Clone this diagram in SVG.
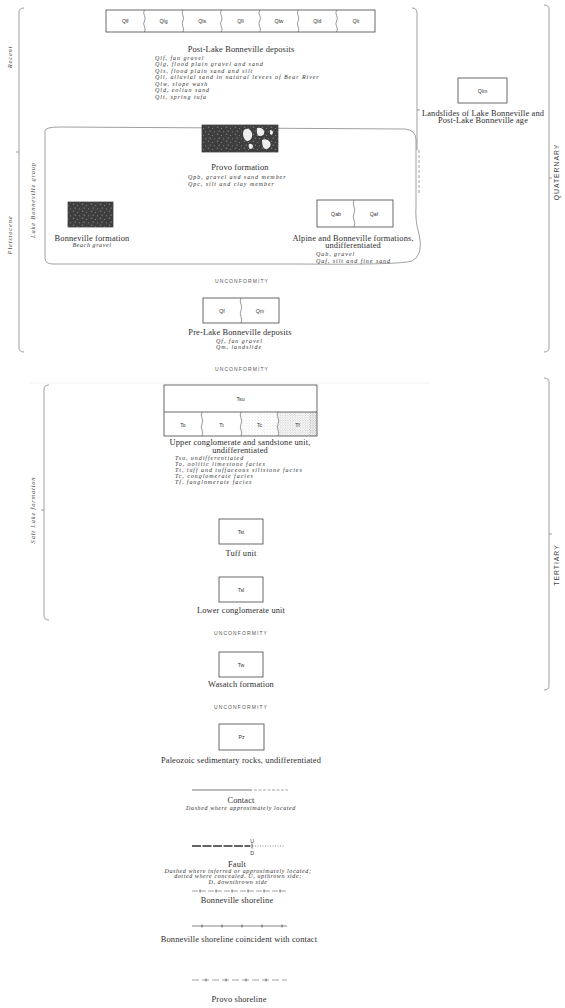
<svg xmlns="http://www.w3.org/2000/svg" width="565" height="1008" viewBox="0 0 565 1008">
<style>
.lbl{font-family:"Liberation Serif",serif;font-size:8.4px;fill:#2e2e2e;letter-spacing:0.15px;text-anchor:middle}
.it{font-family:"Liberation Serif",serif;font-style:italic;font-size:6px;fill:#333;letter-spacing:0.95px}
.itc{font-family:"Liberation Serif",serif;font-style:italic;font-size:6px;fill:#333;letter-spacing:0.6px;text-anchor:middle}
.sym{font-family:"Liberation Sans",sans-serif;font-size:5.2px;fill:#333;text-anchor:middle}
.unc{font-family:"Liberation Sans",sans-serif;font-size:5px;fill:#555;letter-spacing:1.1px;text-anchor:middle}
.era{font-family:"Liberation Sans",sans-serif;font-size:6.8px;fill:#444;letter-spacing:1px;text-anchor:middle}
.side{font-family:"Liberation Serif",serif;font-style:italic;font-size:6.5px;fill:#444;letter-spacing:0.8px;text-anchor:middle}
.box{fill:none;stroke:#444;stroke-width:0.8}
.wv{fill:none;stroke:#555;stroke-width:0.6}
.br{fill:none;stroke:#777;stroke-width:0.7}
.ln{fill:none;stroke:#555;stroke-width:0.8}
</style>
<defs>
<pattern id="mot" width="9" height="7" patternUnits="userSpaceOnUse">
<rect width="9" height="7" fill="#3e3e3e"/>
<circle cx="1.5" cy="1.2" r="0.8" fill="#777"/>
<circle cx="5.5" cy="2.5" r="0.6" fill="#8a8a8a"/>
<circle cx="3.2" cy="5.2" r="0.9" fill="#666"/>
<circle cx="7.6" cy="5.8" r="0.5" fill="#999"/>
<circle cx="7" cy="0.6" r="0.4" fill="#555"/>
</pattern>
<pattern id="stip" width="3" height="3" patternUnits="userSpaceOnUse">
<circle cx="0.8" cy="0.8" r="0.35" fill="#aaa"/>
<circle cx="2.3" cy="2.2" r="0.3" fill="#bbb"/>
</pattern>
<pattern id="stip2" width="2.5" height="2.5" patternUnits="userSpaceOnUse">
<circle cx="0.7" cy="0.7" r="0.45" fill="#888"/>
<circle cx="1.9" cy="1.8" r="0.4" fill="#999"/>
</pattern>
</defs>
<rect width="565" height="1008" fill="#fff"/>

<g id="brackets">
<path class="br" d="M24,8 Q19,8 19,12 V348 Q19,352 24,352 M19,152 H16"/>
<text class="side" transform="rotate(-90 12 57)" x="12" y="57">Recent</text>
<text class="side" transform="rotate(-90 12 235)" x="12" y="235">Pleistocene</text>
<path class="br" d="M544,5 Q549,5 549,9 V348 Q549,352 544,352 M549,178 H552"/>
<text class="era" transform="rotate(-90 559 172)" x="559" y="172">QUATERNARY</text>
<path class="br" d="M544,378 Q549,378 549,382 V686 Q549,690 544,690 M549,534 H552"/>
<text class="era" transform="rotate(-90 559 565)" x="559" y="565">TERTIARY</text>
<path class="br" d="M49,385 Q44,385 44,389 V616 Q44,620 49,620 M44,510 H41"/>
<text class="side" transform="rotate(-90 35 510)" x="35" y="510">Salt Lake formation</text>
<path class="br" d="M412,8 Q417,8 417,13 V150 M417,110 H420"/>
<path d="M30,383 H430" stroke="#e6e6e6" stroke-width="0.6"/>
</g>

<g id="post-lake-bonneville">
<rect class="box" x="106" y="10" width="269" height="22"/>
<path class="wv" d="M144.4,10 q-1.5,2.75 0,5.5 t0,5.5 t0,5.5 t0,5.5 M182.9,10 q-1.5,2.75 0,5.5 t0,5.5 t0,5.5 t0,5.5 M221.3,10 q-1.5,2.75 0,5.5 t0,5.5 t0,5.5 t0,5.5 M259.7,10 q-1.5,2.75 0,5.5 t0,5.5 t0,5.5 t0,5.5 M298.1,10 q-1.5,2.75 0,5.5 t0,5.5 t0,5.5 t0,5.5 M336.6,10 q-1.5,2.75 0,5.5 t0,5.5 t0,5.5 t0,5.5"/>
<text class="sym" x="125.2" y="22.8">Qlf</text>
<text class="sym" x="163.6" y="22.8">Qlg</text>
<text class="sym" x="202.1" y="22.8">Qls</text>
<text class="sym" x="240.5" y="22.8">Qll</text>
<text class="sym" x="278.9" y="22.8">Qlw</text>
<text class="sym" x="317.3" y="22.8">Qld</text>
<text class="sym" x="355.8" y="22.8">Qlt</text>
<text class="lbl" x="241" y="51.5">Post-Lake Bonneville deposits</text>
<text class="it" x="155" y="59.5">Qlf, fan gravel</text>
<text class="it" x="155" y="66">Qlg, flood plain gravel and sand</text>
<text class="it" x="155" y="72.5">Qls, flood plain sand and silt</text>
<text class="it" x="155" y="79">Qll, alluvial sand in natural levees of Bear River</text>
<text class="it" x="155" y="85.5">Qlw, slope wash</text>
<text class="it" x="155" y="92">Qld, eolian sand</text>
<text class="it" x="155" y="98.5">Qlt, spring tufa</text>
</g>

<g id="landslides">
<rect class="box" x="458" y="78" width="49" height="25"/>
<text class="sym" x="482.5" y="92.5">Qlm</text>
<text class="lbl" x="483" y="115.5">Landslides of Lake Bonneville and</text>
<text class="lbl" x="483" y="122.5">Post-Lake Bonneville age</text>
</g>

<g id="lake-bonneville-group">
<path class="br" d="M45,131 V258 Q45,264 53,264 L300,264 Q400,265 412,261 Q424,255 419,234 Q415,222 416,205 V140 Q416,130 405,129 L60,127 Q45,127 45,131Z"/>
<path d="M419,150 V194" stroke="#777" stroke-width="0.7" stroke-dasharray="3,2"/>
<text class="side" transform="rotate(-90 35 200)" x="35" y="200">Lake Bonneville group</text>
</g>

<g id="provo">
<rect x="202" y="125" width="76" height="27" fill="url(#mot)"/>
<path d="M244,130 q4,-3 7,1 q3,5 -1,9 q-4,3 -6,-2 q-2,-4 0,-8Z M257,128 q5,-1 7,3 q1,5 -4,5 q-4,0 -3,-8Z M262,140 q5,-2 8,2 q2,5 -3,7 q-5,1 -5,-9Z M249,144 q3,-1 4,2 q0,3 -3,3 q-2,-2 -1,-5Z M270,130 q3,0 3,3 q-1,3 -3,1Z" fill="#eee"/>
<rect class="box" x="202" y="125" width="76" height="27"/>
<text class="lbl" x="240" y="169.5">Provo formation</text>
<text class="it" x="188" y="179">Qpb, gravel and sand member</text>
<text class="it" x="188" y="185.5">Qpc, silt and clay member</text>
</g>

<g id="bonneville-formation">
<rect x="68" y="202" width="45" height="25" fill="url(#mot)"/>
<rect class="box" x="68" y="202" width="45" height="25"/>
<text class="lbl" x="92" y="240.5">Bonneville formation</text>
<text class="itc" x="92" y="247">Beach gravel</text>
</g>

<g id="alpine-bonneville">
<rect class="box" x="317" y="200" width="76" height="27"/>
<path class="wv" d="M354,200 q-1.5,3.375 0,6.75 t0,6.75 t0,6.75 t0,6.75"/>
<text class="sym" x="336" y="215.5">Qab</text>
<text class="sym" x="374" y="215.5">Qaf</text>
<text class="lbl" x="353" y="240.5">Alpine and Bonneville formations,</text>
<text class="lbl" x="353" y="247.5">undifferentiated</text>
<text class="it" x="316" y="256">Qab, gravel</text>
<text class="it" x="316" y="262.5">Qaf, silt and fine sand</text>
</g>

<g id="pre-lake-bonneville">
<text class="unc" x="242" y="283">UNCONFORMITY</text>
<rect class="box" x="203" y="298" width="76" height="25"/>
<path class="wv" d="M241,298 q-1.5,3.125 0,6.25 t0,6.25 t0,6.25 t0,6.25"/>
<text class="sym" x="222" y="312.5">Qf</text>
<text class="sym" x="260" y="312.5">Qm</text>
<text class="lbl" x="240" y="334.5">Pre-Lake Bonneville deposits</text>
<text class="it" x="216" y="343">Qf, fan gravel</text>
<text class="it" x="216" y="348.5">Qm, landslide</text>
<text class="unc" x="242" y="371">UNCONFORMITY</text>
</g>

<g id="upper-conglomerate">
<rect x="241" y="412" width="37" height="24" fill="url(#stip)"/>
<rect x="278" y="412" width="39" height="24" fill="url(#stip2)"/>
<rect x="309" y="412" width="8" height="24" fill="url(#stip2)" opacity="0.8"/>
<rect class="box" x="164" y="385" width="153" height="51"/>
<path class="box" d="M164,412 H317"/>
<path class="wv" d="M202,412 q-1.5,3 0,6 t0,6 t0,6 t0,6 M241,412 q-1.5,3 0,6 t0,6 t0,6 t0,6 M278,412 q-1.5,3 0,6 t0,6 t0,6 t0,6"/>
<text class="sym" x="240.5" y="401">Tsu</text>
<text class="sym" x="183" y="426.5">To</text>
<text class="sym" x="221.5" y="426.5">Tt</text>
<text class="sym" x="259.5" y="426.5">Tc</text>
<text class="sym" x="297.5" y="426.5">Tf</text>
<text class="lbl" x="240" y="444.5">Upper conglomerate and sandstone unit,</text>
<text class="lbl" x="240" y="452.5">undifferentiated</text>
<text class="it" x="175" y="460">Tsu, undifferentiated</text>
<text class="it" x="175" y="466">To, oolitic limestone facies</text>
<text class="it" x="175" y="472">Tt, tuff and tuffaceous siltstone facies</text>
<text class="it" x="175" y="478">Tc, conglomerate facies</text>
<text class="it" x="175" y="484">Tf, fanglomerate facies</text>
</g>

<g id="tuff-unit">
<rect class="box" x="219" y="519" width="44" height="25"/>
<text class="sym" x="241" y="533.5">Tst</text>
<text class="lbl" x="241" y="555.5">Tuff unit</text>
</g>

<g id="lower-conglomerate">
<rect class="box" x="219" y="577" width="44" height="25"/>
<text class="sym" x="241" y="591.5">Tsl</text>
<text class="lbl" x="241" y="612.5">Lower conglomerate unit</text>
<text class="unc" x="241" y="635">UNCONFORMITY</text>
</g>

<g id="wasatch">
<rect class="box" x="219" y="652" width="44" height="25"/>
<text class="sym" x="241" y="666.5">Tw</text>
<text class="lbl" x="241" y="686.5">Wasatch formation</text>
<text class="unc" x="241" y="709">UNCONFORMITY</text>
</g>

<g id="paleozoic">
<rect class="box" x="219" y="724" width="45" height="26"/>
<text class="sym" x="241.5" y="739">Pz</text>
<text class="lbl" x="241" y="762.5">Paleozoic sedimentary rocks, undifferentiated</text>
</g>

<g id="connectors">
<path class="ln" d="M192,790 H252"/>
<path d="M254,790 H288" stroke="#666" stroke-width="0.6" stroke-dasharray="3,1.5"/>
<path d="M192,846 H250" stroke="#333" stroke-width="1.3" stroke-dasharray="9,1.5"/>
<path d="M250,846 H285" stroke="#666" stroke-width="0.8" stroke-dasharray="1,1.5"/>
<path d="M252,843.5 V848.5" stroke="#333" stroke-width="0.8"/>
<path d="M192,891 H287" stroke="#666" stroke-width="0.6" stroke-dasharray="6,2"/>
<path d="M200,889.5 v3 M216,889.5 v3 M232,889.5 v3 M248,889.5 v3 M264,889.5 v3 M280,889.5 v3" stroke="#444" stroke-width="0.8"/>
<path d="M192,926 H287" stroke="#555" stroke-width="0.7"/>
<path d="M202,924.5 v3 M222,924.5 v3 M242,924.5 v3 M262,924.5 v3 M282,924.5 v3" stroke="#444" stroke-width="0.8"/>
<path d="M192,980 H287" stroke="#666" stroke-width="0.6" stroke-dasharray="7,3"/>
<path d="M206,978.5 v3 M226,978.5 v3 M246,978.5 v3 M266,978.5 v3" stroke="#444" stroke-width="0.8"/>
</g>

<g id="contact">
<text class="lbl" x="241" y="802.5">Contact</text>
<text class="itc" x="241" y="810">Dashed where approximately located</text>
</g>

<g id="fault">
<text class="sym" x="252" y="843">U</text>
<text class="sym" x="252" y="854.5">D</text>
<text class="lbl" x="237" y="867">Fault</text>
<text class="itc" x="238" y="872.5">Dashed where inferred or approximately located;</text>
<text class="itc" x="238" y="878">dotted where concealed. U, upthrown side;</text>
<text class="itc" x="238" y="883.5">D, downthrown side</text>
</g>

<g id="shorelines">
<text class="lbl" x="237" y="903">Bonneville shoreline</text>
<text class="lbl" x="239" y="942">Bonneville shoreline coincident with contact</text>
<text class="lbl" x="239" y="1002">Provo shoreline</text>
</g>
</svg>
